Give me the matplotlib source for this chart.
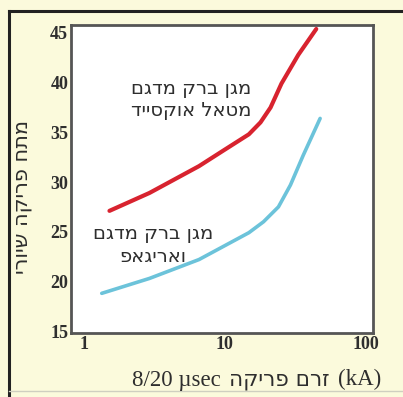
import matplotlib.pyplot as plt
from matplotlib.lines import Line2D
from matplotlib.offsetbox import TextArea, HPacker, AnchoredOffsetbox


def heb(s):
    # matplotlib has no bidi support, so Hebrew runs are given in visual order
    return s[::-1]


# discharge current (kA) vs. residual voltage
mov_current = [1.52, 2.92, 6.56, 9.84, 14.8, 17.9, 21.1, 25.2, 33.2, 44.5]
mov_voltage = [27.1, 28.9, 31.6, 33.2, 34.8, 36.0, 37.5, 39.9, 42.8, 45.4]

gap_current = [1.34, 2.92, 6.56, 14.8, 18.8, 24.0, 29.2, 36.0, 47.4]
gap_voltage = [18.8, 20.3, 22.2, 24.9, 26.0, 27.5, 29.7, 32.7, 36.4]

y_ticks = [15, 20, 25, 30, 35, 40, 45]
x_ticks = [1, 10, 100]

mov_label = heb("מגן ברק מדגם") + "\n" + heb("מטאל אוקסייד")
gap_label = heb("מגן ברק מדגם") + "\n" + heb("ואריגאפ")
y_title = heb("מתח פריקה שיורי")

bg = "#fbfadc"
txt = "#2e2e2e"

fig = plt.figure(figsize=(4.03, 3.97), dpi=100, facecolor=bg)
ax = fig.add_axes([0.176, 0.161, 0.749, 0.776])
ax.set_facecolor("white")

ax.plot(mov_current, mov_voltage, color="#d8232f", lw=3.0, solid_capstyle="round",
        solid_joinstyle="round")
ax.plot(gap_current, gap_voltage, color="#6cc3da", lw=2.6, solid_capstyle="round",
        solid_joinstyle="round")

ax.set_xscale("log")
ax.set_xlim(0.81, 112)
ax.set_ylim(14.8, 45.8)
ax.set_xticks(x_ticks)
ax.set_xticklabels([str(v) for v in x_ticks])
ax.set_yticks(y_ticks)
ax.minorticks_off()
ax.tick_params(length=0, pad=2, labelsize=13, labelcolor=txt)
for lab in ax.get_xticklabels() + ax.get_yticklabels():
    lab.set_family("Liberation Serif")
    lab.set_fontweight("bold")

for sp in ax.spines.values():
    sp.set_color("#555555")
    sp.set_linewidth(2)

ax.text(5.8, 38.3, mov_label, ha="center", va="center", fontsize=14,
        family="DejaVu Sans", color=txt, linespacing=1.25)
ax.text(3.1, 23.7, gap_label, ha="center", va="center", fontsize=14,
        family="DejaVu Sans", color=txt, linespacing=1.25)

fig.text(0.055, 0.505, y_title, rotation=90, ha="center", va="center",
         fontsize=15, family="DejaVu Sans", color=txt)

# x title: latin parts in serif, Hebrew in sans
serif = dict(family="Liberation Serif", size=16.5, color=txt)
sans = dict(family="DejaVu Sans", size=15.5, color=txt)
parts = [TextArea("8/20 µsec", textprops=serif),
         TextArea(heb("זרם פריקה"), textprops=sans),
         TextArea("(kA)", textprops=serif)]
xbox = HPacker(children=parts, align="baseline", pad=0, sep=6)
anch = AnchoredOffsetbox(loc="center", child=xbox, frameon=False,
                         bbox_to_anchor=(0.637, 0.043),
                         bbox_transform=fig.transFigure, borderpad=0, pad=0)
fig.add_artist(anch)

# outer frame of the box
fig.add_artist(Line2D([0.022, 1.0], [0.972, 0.972], color="#222222", lw=2.2))
fig.add_artist(Line2D([0.022, 0.022], [0.0, 0.972], color="#222222", lw=2.2))
fig.add_artist(Line2D([0.022, 1.0], [0.015, 0.015], color="#cfcfc0", lw=1))

fig.savefig("out.png", dpi=100, facecolor=bg)
